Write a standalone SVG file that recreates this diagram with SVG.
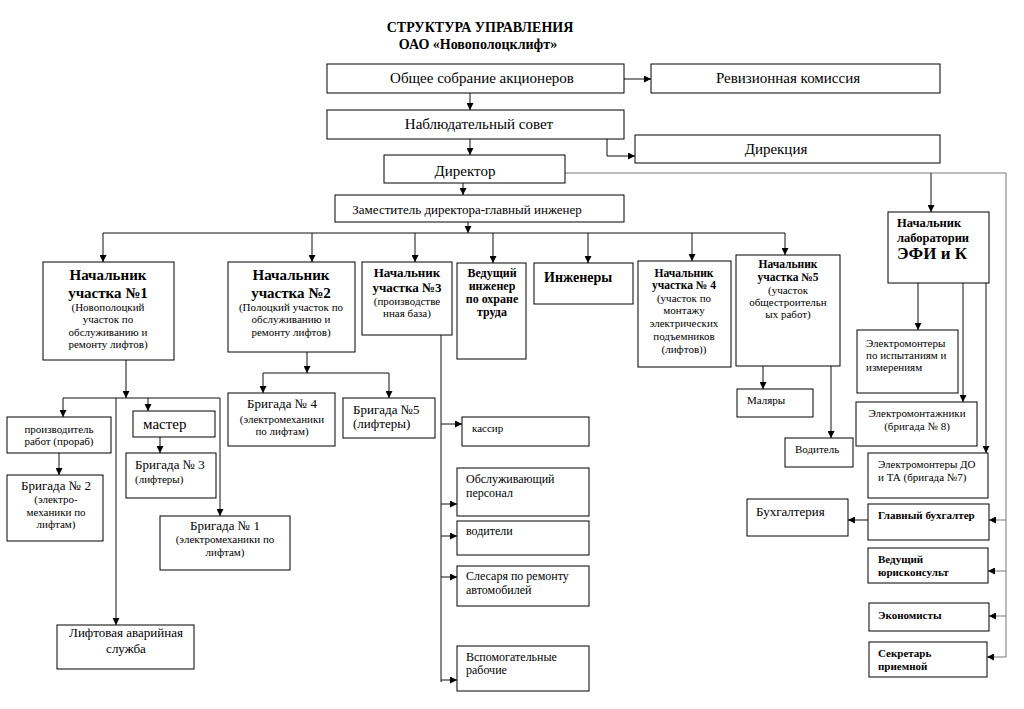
<svg xmlns="http://www.w3.org/2000/svg" width="1024" height="709" viewBox="0 0 1024 709" font-family="Liberation Serif">
<style>
.b{fill:#fff;stroke:#000;stroke-width:1}
.c{text-anchor:middle}
.h{font-weight:bold}
.s{font-size:11px}
.m{font-size:13px}
.l{font-size:15px}
.cn path{fill:none;stroke:#111;stroke-width:1}
.cn path.g{stroke:#777}
</style>
<defs>
<marker id="a" viewBox="0 0 10 10" refX="10" refY="5" markerWidth="7" markerHeight="7" markerUnits="userSpaceOnUse" orient="auto"><path d="M0,0 L10,5 L0,10 z" fill="#000"/></marker>
</defs>
<rect width="1024" height="709" fill="#fff"/>
<g id="title">
<text x="480" y="32" class="c h" font-size="14">СТРУКТУРА УПРАВЛЕНИЯ</text>
<text x="478" y="49" class="c h" font-size="14">ОАО «Новополоцклифт»</text>
</g>
<g class="cn" id="connectors">
<path d="M624,79 H651" marker-end="url(#a)"/>
<path d="M470,93 V110" marker-end="url(#a)"/>
<path d="M470,139 V155" marker-end="url(#a)"/>
<path d="M607,139 V156 H635" marker-end="url(#a)"/>
<path d="M463,183 V195" marker-end="url(#a)"/>
<path d="M468,222 V233" marker-end="url(#a)"/>
<path d="M103,233 H785"/>
<path d="M103,233 V262" marker-end="url(#a)"/>
<path d="M312,233 V262" marker-end="url(#a)"/>
<path d="M415,233 V262" marker-end="url(#a)"/>
<path d="M493,233 V263" marker-end="url(#a)"/>
<path d="M588,233 V263" marker-end="url(#a)"/>
<path d="M692,233 V261" marker-end="url(#a)"/>
<path d="M785,233 V255" marker-end="url(#a)"/>
<path class="g" d="M565,173 H1006 V657 H987" marker-end="url(#a)"/>
<path d="M931,173 V212" marker-end="url(#a)"/>
<path class="g" d="M1006,520 H989" marker-end="url(#a)"/>
<path class="g" d="M1006,571 H988" marker-end="url(#a)"/>
<path class="g" d="M1006,616 H989" marker-end="url(#a)"/>
<path d="M918,283 V330" marker-end="url(#a)"/>
<path d="M963,283 V402" marker-end="url(#a)"/>
<path d="M986,283 V453" marker-end="url(#a)"/>
<path d="M763,366 V389" marker-end="url(#a)"/>
<path d="M831,366 V438" marker-end="url(#a)"/>
<path d="M868,520 H848" marker-end="url(#a)"/>
<path d="M126,360 V398" marker-end="url(#a)"/>
<path d="M63,398 H220"/>
<path d="M63,398 V417" marker-end="url(#a)"/>
<path d="M148,398 V411" marker-end="url(#a)"/>
<path d="M220,398 V516" marker-end="url(#a)"/>
<path d="M116,398 V625" marker-end="url(#a)"/>
<path d="M59,453 V475" marker-end="url(#a)"/>
<path d="M160,437 V453" marker-end="url(#a)"/>
<path d="M307,352 V373" marker-end="url(#a)"/>
<path d="M263,373 H389"/>
<path d="M263,373 V393" marker-end="url(#a)"/>
<path d="M389,373 V398" marker-end="url(#a)"/>
<path d="M441,335 V682"/>
<path d="M441,424 H462" marker-end="url(#a)"/>
<path d="M441,504 H457" marker-end="url(#a)"/>
<path d="M441,536 H457" marker-end="url(#a)"/>
<path d="M441,577 H457" marker-end="url(#a)"/>
<path d="M441,680 H457" marker-end="url(#a)"/>
</g>
<g id="n-obshchee"><rect class="b" x="327" y="64" width="297" height="29"/><text x="482" y="83" class="c l">Общее собрание акционеров</text></g>
<g id="n-reviz"><rect class="b" x="651" y="64" width="289" height="29"/><text x="788" y="83" class="c l">Ревизионная комиссия</text></g>
<g id="n-nabl"><rect class="b" x="327" y="110" width="297" height="29"/><text x="479" y="129" class="c l">Наблюдательный совет</text></g>
<g id="n-direkcia"><rect class="b" x="635" y="135" width="305" height="28"/><text x="776" y="154" class="c l">Дирекция</text></g>
<g id="n-director"><rect class="b" x="384" y="155" width="181" height="28"/><text x="465" y="176" class="c l">Директор</text></g>
<g id="n-zam"><rect class="b" x="335" y="195" width="289" height="27"/><text x="467" y="214" class="c m">Заместитель директора-главный инженер</text></g>
<g id="n-uch1"><rect class="b" x="43" y="262" width="131" height="98"/>
<text x="108" y="280" class="c h l">Начальник</text><text x="108" y="298" class="c h l">участка №1</text>
<text x="108" y="311" class="c s">(Новополоцкий</text><text x="108" y="323" class="c s">участок по</text><text x="108" y="336" class="c s">обслуживанию и</text><text x="108" y="348" class="c s">ремонту лифтов)</text></g>
<g id="n-uch2"><rect class="b" x="228" y="262" width="127" height="90"/>
<text x="291" y="280" class="c h l">Начальник</text><text x="291" y="298" class="c h l">участка №2</text>
<text x="291" y="311" class="c s">(Полоцкий участок по</text><text x="291" y="323" class="c s">обслуживанию и</text><text x="291" y="336" class="c s">ремонту лифтов)</text></g>
<g id="n-uch3"><rect class="b" x="362" y="262" width="90" height="73"/>
<text x="407" y="277" class="c h m">Начальник</text><text x="407" y="292" class="c h m">участка №3</text>
<text x="407" y="305" class="c s">(производстве</text><text x="407" y="317" class="c s">нная база)</text></g>
<g id="n-ohrana"><rect class="b" x="457" y="263" width="69" height="96"/>
<text x="492" y="277" class="c h" font-size="12">Ведущий</text><text x="492" y="290" class="c h" font-size="12">инженер</text><text x="492" y="303" class="c h" font-size="12">по охране</text><text x="492" y="316" class="c h" font-size="12">труда</text></g>
<g id="n-ing"><rect class="b" x="534" y="263" width="99" height="41"/><text x="544" y="282" class="h" font-size="14">Инженеры</text></g>
<g id="n-uch4"><rect class="b" x="638" y="261" width="93" height="106"/>
<text x="684" y="277" class="c h" font-size="11.5">Начальник</text><text x="684" y="289" class="c h" font-size="11.5">участка № 4</text>
<text x="684" y="302" class="c s">(участок по</text><text x="684" y="314" class="c s">монтажу</text><text x="684" y="327" class="c s">электрических</text><text x="684" y="340" class="c s">подъемников</text><text x="684" y="353" class="c s">(лифтов))</text></g>
<g id="n-uch5"><rect class="b" x="736" y="255" width="104" height="111"/>
<text x="788" y="268" class="c h" font-size="11.5">Начальник</text><text x="788" y="281" class="c h" font-size="11.5">участка №5</text>
<text x="788" y="294" class="c s">(участок</text><text x="788" y="306" class="c s">общестроительн</text><text x="788" y="318" class="c s">ых работ)</text></g>
<g id="n-lab"><rect class="b" x="888" y="212" width="101" height="71"/>
<text x="897" y="227" class="h" font-size="12.5">Начальник</text><text x="897" y="242" class="h" font-size="12.5">лаборатории</text><text x="897" y="259" class="h" font-size="17">ЭФИ и К</text></g>
<g id="n-isp"><rect class="b" x="857" y="330" width="101" height="63"/>
<text x="866" y="347" class="s">Электромонтеры</text><text x="866" y="359" class="s">по испытаниям и</text><text x="866" y="371" class="s">измерениям</text></g>
<g id="n-malyary"><rect class="b" x="737" y="389" width="76" height="28"/><text x="747" y="404" class="s">Маляры</text></g>
<g id="n-voditel"><rect class="b" x="785" y="438" width="68" height="29"/><text x="795" y="453" class="s">Водитель</text></g>
<g id="n-montazh"><rect class="b" x="856" y="402" width="121" height="44"/>
<text x="917" y="417" class="c s">Электромонтажники</text><text x="917" y="430" class="c s">(бригада № 8)</text></g>
<g id="n-do"><rect class="b" x="868" y="453" width="120" height="45"/>
<text x="878" y="468" class="s">Электромонтеры ДО</text><text x="878" y="481" class="s">и ТА (бригада №7)</text></g>
<g id="n-glbuh"><rect class="b" x="868" y="504" width="121" height="36"/><text x="878" y="519" class="h s">Главный бухгалтер</text></g>
<g id="n-buh"><rect class="b" x="747" y="499" width="101" height="37"/><text x="756" y="516" class="m">Бухгалтерия</text></g>
<g id="n-jur"><rect class="b" x="868" y="548" width="120" height="35"/>
<text x="878" y="563" class="h s">Ведущий</text><text x="878" y="576" class="h s">юрисконсульт</text></g>
<g id="n-econ"><rect class="b" x="869" y="603" width="120" height="28"/><text x="878" y="619" class="h s">Экономисты</text></g>
<g id="n-secr"><rect class="b" x="869" y="642" width="118" height="35"/>
<text x="878" y="657" class="h s">Секретарь</text><text x="878" y="670" class="h s">приемной</text></g>
<g id="n-prorab"><rect class="b" x="7" y="417" width="104" height="36"/>
<text x="59" y="433" class="c s">производитель</text><text x="59" y="445" class="c s">работ (прораб)</text></g>
<g id="n-br2"><rect class="b" x="7" y="475" width="96" height="66"/>
<text x="56" y="490" class="c m">Бригада № 2</text><text x="56" y="503" class="c s">(электро-</text><text x="56" y="516" class="c s">механики по</text><text x="56" y="528" class="c s">лифтам)</text></g>
<g id="n-master"><rect class="b" x="133" y="411" width="82" height="26"/><text x="143" y="429" class="l">мастер</text></g>
<g id="n-br3"><rect class="b" x="126" y="453" width="90" height="45"/>
<text x="135" y="469" class="m">Бригада № 3</text><text x="135" y="483" class="s">(лифтеры)</text></g>
<g id="n-br1"><rect class="b" x="160" y="516" width="130" height="54"/>
<text x="225" y="530" class="c m">Бригада № 1</text><text x="225" y="543" class="c s">(электромеханики по</text><text x="225" y="556" class="c s">лифтам)</text></g>
<g id="n-br4"><rect class="b" x="228" y="393" width="107" height="53"/>
<text x="282" y="408" class="c m">Бригада № 4</text><text x="282" y="423" class="c s">(электромеханики</text><text x="282" y="435" class="c s">по лифтам)</text></g>
<g id="n-br5"><rect class="b" x="343" y="398" width="92" height="40"/>
<text x="353" y="414" class="m">Бригада №5</text><text x="353" y="428" class="m">(лифтеры)</text></g>
<g id="n-avar"><rect class="b" x="57" y="625" width="137" height="44"/>
<text x="126" y="637" class="c m">Лифтовая аварийная</text><text x="126" y="653" class="c m">служба</text></g>
<g id="n-kassir"><rect class="b" x="462" y="417" width="127" height="29"/><text x="472" y="432" class="s">кассир</text></g>
<g id="n-obsl"><rect class="b" x="457" y="468" width="132" height="48"/>
<text x="466" y="483" font-size="12">Обслуживающий</text><text x="466" y="497" font-size="12">персонал</text></g>
<g id="n-voditeli"><rect class="b" x="457" y="521" width="132" height="34"/><text x="466" y="535" font-size="12">водители</text></g>
<g id="n-slesar"><rect class="b" x="457" y="566" width="132" height="40"/>
<text x="466" y="580" font-size="12">Слесаря по ремонту</text><text x="466" y="594" font-size="12">автомобилей</text></g>
<g id="n-vspom"><rect class="b" x="457" y="646" width="132" height="45"/>
<text x="466" y="661" font-size="12">Вспомогательные</text><text x="466" y="674" font-size="12">рабочие</text></g>
</svg>
